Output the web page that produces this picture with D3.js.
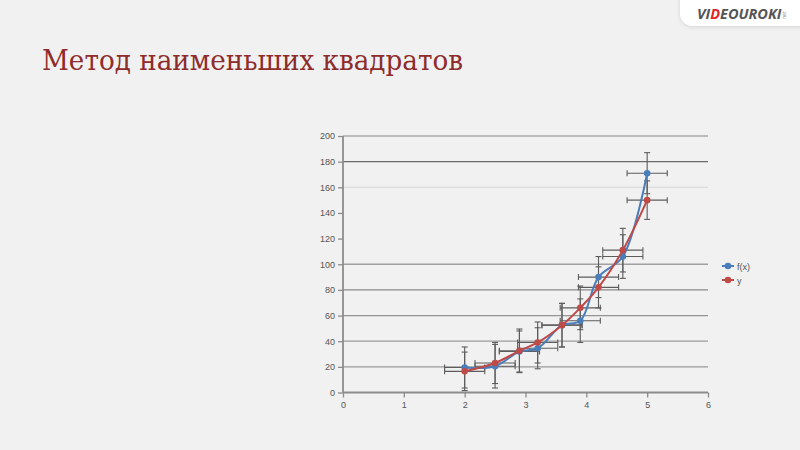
<!DOCTYPE html>
<html><head><meta charset="utf-8">
<script src="https://cdn.jsdelivr.net/npm/d3@7"></script>
<style>
html,body{margin:0;padding:0;background:#f1f1f1;}
svg{display:block;}
</style></head>
<body>
<svg id="chart" width="800" height="450"></svg>
<script>
// ---- data ----
const title = "Метод наименьших квадратов";
const xValues = [2, 2.5, 2.9, 3.2, 3.6, 3.9, 4.2, 4.6, 5];
const fxValues = [19.5, 20.5, 32, 34.5, 52.5, 56, 90, 106, 171];
const yValues = [16.5, 23, 32.5, 39, 52.5, 66, 82, 111, 150];
const fxYErr = [16, 17, 16, 16, 17, 17, 16, 17, 16];
const yYErr = [15, 16, 17, 16, 17, 17, 16, 17, 15];
const xErr = [0.33, 0.33, 0.33, 0.33, 0.33, 0.33, 0.33, 0.33, 0.33];
const seriesNames = ["f(x)", "y"];
const xTicks = [0, 1, 2, 3, 4, 5, 6];
const yTicks = [0, 20, 40, 60, 80, 100, 120, 140, 160, 180, 200];

const svg = d3.select("#chart");
svg.append("rect").attr("width", 800).attr("height", 450).attr("fill", "#f1f1f1");

// logo
const defs = svg.append("defs");
const f = defs.append("filter").attr("id", "sh").attr("x", "-20%").attr("y", "-50%").attr("width", "140%").attr("height", "200%");
f.append("feDropShadow").attr("dx", 0).attr("dy", 1).attr("stdDeviation", 2).attr("flood-color", "#000").attr("flood-opacity", 0.12);
svg.append("rect").attr("x", 680).attr("y", -14).attr("width", 140).attr("height", 40).attr("rx", 13)
  .attr("fill", "#ffffff").attr("filter", "url(#sh)");
const logo = svg.append("text").attr("x", 697).attr("y", 19)
  .attr("font-family", "Open Sans, Arial, sans-serif").attr("font-size", 14.5).attr("font-weight", 700)
  .attr("font-style", "italic").attr("fill", "#555");
logo.append("tspan").text("VI");
logo.append("tspan").attr("fill", "#e0262b").text("D");
logo.append("tspan").text("EOUROKI");
svg.append("text").attr("x", 786).attr("y", 19).attr("font-size", 5).attr("fill", "#888")
  .attr("font-family", "Open Sans, sans-serif").attr("transform", "rotate(-90,786,19)").text("net");

// title
svg.append("text").attr("x", 42).attr("y", 70)
  .attr("font-family", "DejaVu Serif, serif").attr("font-size", 28)
  .attr("fill", "#8e2c2c").attr("textLength", 421).attr("lengthAdjust", "spacingAndGlyphs")
  .text(title);

// scales
const x = d3.scaleLinear().domain([0, 6]).range([343, 708]);
const y = d3.scaleLinear().domain([0, 200]).range([392.5, 136]);

// gridlines
const gridColor = {200: "#a8a8a8", 180: "#6a6a6a", 160: "#dcdcdc", 140: "none", 120: "none",
  100: "#a0a0a0", 80: "#8a8a8a", 60: "#959595", 40: "#9a9a9a", 20: "#9a9a9a"};
svg.append("g").selectAll("line").data(yTicks.filter(d => d > 0)).join("line")
  .attr("x1", x(0)).attr("x2", x(6)).attr("y1", d => y(d)).attr("y2", d => y(d))
  .attr("stroke", d => gridColor[d]).attr("stroke-width", 1.3);

// axes
const yAxis = svg.append("g").attr("transform", `translate(${x(0)},0)`)
  .call(d3.axisLeft(y).tickValues(yTicks).tickFormat(d3.format("d")).tickSize(5).tickPadding(3));
const xAxis = svg.append("g").attr("transform", `translate(0,${y(0)})`)
  .call(d3.axisBottom(x).tickValues(xTicks).tickFormat(d3.format("d")).tickSize(5).tickPadding(4));
[yAxis, xAxis].forEach(a => {
  a.select(".domain").attr("stroke", "#8c8c8c").attr("stroke-width", 1.8);
  a.selectAll(".tick line").attr("stroke", "#8c8c8c").attr("stroke-width", 1.3);
  a.selectAll(".tick text").attr("fill", "#555").attr("font-size", 9)
    .attr("font-family", "Liberation Sans, Arial, sans-serif");
});
xAxis.select(".domain").attr("d", `M${x(0)},0H${x(6)}`);
xAxis.selectAll(".tick line").attr("y1", 0).attr("y2", 5);
yAxis.select(".domain").attr("d", `M0,${y(0)}V${y(200)}`);

const series = [
  {name: seriesNames[0], vals: fxValues, yerr: fxYErr, color: "#4a7ebb"},
  {name: seriesNames[1], vals: yValues, yerr: yYErr, color: "#be4b48"}
];

// error bars
const eg = svg.append("g").attr("stroke", "#5c5c5c").attr("stroke-width", 1.1).attr("fill", "none");
series.forEach(s => {
  xValues.forEach((xv, i) => {
    const yv = s.vals[i], ye = s.yerr[i], xe = xErr[i];
    const px = x(xv), py = y(yv);
    eg.append("line").attr("x1", px).attr("x2", px).attr("y1", y(yv - ye)).attr("y2", y(yv + ye));
    eg.append("line").attr("x1", px - 3).attr("x2", px + 3).attr("y1", y(yv - ye)).attr("y2", y(yv - ye));
    eg.append("line").attr("x1", px - 3).attr("x2", px + 3).attr("y1", y(yv + ye)).attr("y2", y(yv + ye));
    eg.append("line").attr("x1", x(xv - xe)).attr("x2", x(xv + xe)).attr("y1", py).attr("y2", py);
    eg.append("line").attr("x1", x(xv - xe)).attr("x2", x(xv - xe)).attr("y1", py - 3).attr("y2", py + 3);
    eg.append("line").attr("x1", x(xv + xe)).attr("x2", x(xv + xe)).attr("y1", py - 3).attr("y2", py + 3);
  });
});

// lines + markers
const line = d3.line().x(d => x(d[0])).y(d => y(d[1])).curve(d3.curveCatmullRom.alpha(0.5));
series.forEach(s => {
  const pts = xValues.map((xv, i) => [xv, s.vals[i]]);
  svg.append("path").datum(pts).attr("d", line).attr("fill", "none")
    .attr("stroke", s.color).attr("stroke-width", 2);
  svg.append("g").selectAll("circle").data(pts).join("circle")
    .attr("cx", d => x(d[0])).attr("cy", d => y(d[1])).attr("r", 3.3).attr("fill", s.color);
});

// legend
const lg = svg.append("g");
series.forEach((s, i) => {
  const ly = 266 + i * 14;
  lg.append("line").attr("x1", 722).attr("x2", 734).attr("y1", ly).attr("y2", ly)
    .attr("stroke", s.color).attr("stroke-width", 2);
  lg.append("circle").attr("cx", 728).attr("cy", ly).attr("r", 3.3).attr("fill", s.color);
  lg.append("text").attr("x", 737).attr("y", ly + 3.5).attr("font-size", 9).attr("fill", "#555")
    .attr("font-family", "Liberation Sans, Arial, sans-serif").text(s.name);
});
</script>
</body></html>
